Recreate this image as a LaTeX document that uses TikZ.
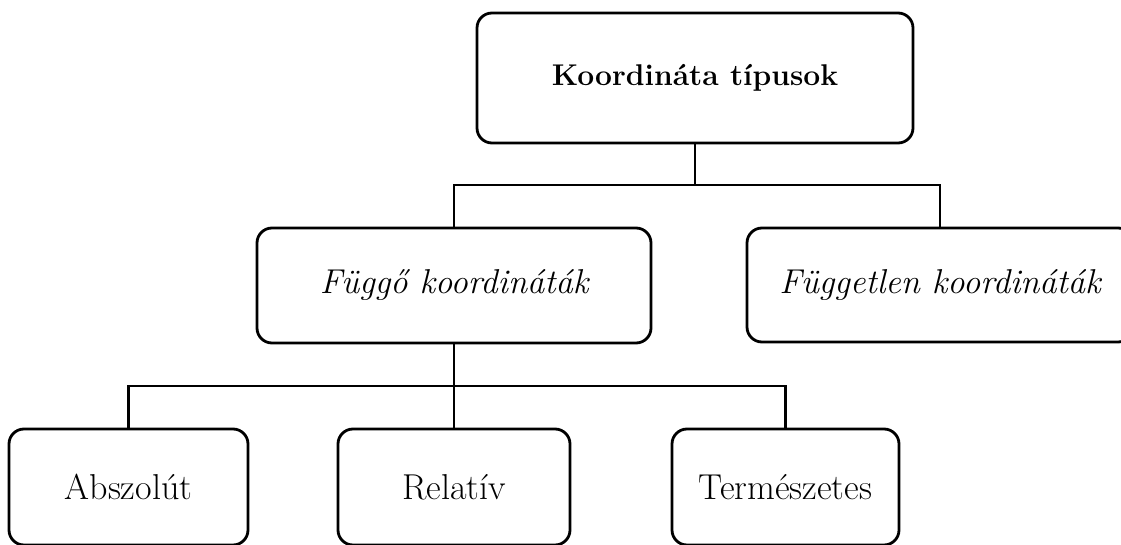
\documentclass[tikz,border=0pt]{standalone}
\usepackage{fontspec}
\begin{document}
\begin{tikzpicture}[x=1pt,y=1pt,
  box/.style={draw=black, line width=2.8pt, rounded corners=15pt, fill=white, inner sep=0pt, align=center, font=\fontsize{36}{42}\selectfont},
  boldbox/.style={box, font=\fontsize{30}{36}\selectfont\bfseries},
  itbox/.style={box, font=\fontsize{34.5}{40}\selectfont\itshape},
  conn/.style={draw=black, line width=2.8pt}]
\useasboundingbox (0,0) rectangle (1121,544);
\coordinate (j1) at (695,359);
\coordinate (j2) at (454,158);
\node[boldbox, minimum width=436pt, minimum height=130pt] (top) at (695,466) {Koordináta típusok};
\node[itbox, minimum width=394pt, minimum height=115pt] (mid) at (454,258.5) {Függő koordináták};
\node[itbox, minimum width=386pt, minimum height=114pt] (right) at (940,259) {Független koordináták};
\node[box, minimum width=239pt, minimum height=116pt] (abs) at (128.5,57) {Abszolút};
\node[box, minimum width=232pt, minimum height=116pt] (rel) at (454,57) {Relatív};
\node[box, minimum width=227pt, minimum height=116pt] (ter) at (785.5,57) {Természetes};
\draw[conn] (top.south) -- (j1);
\draw[conn] (mid.north) |- (j1) -| (right.north);
\draw[conn] (mid.south) -- (j2);
\draw[conn] (abs.north) |- (j2) -| (ter.north);
\draw[conn] (j2) -- (rel.north);
\end{tikzpicture}
\end{document}
